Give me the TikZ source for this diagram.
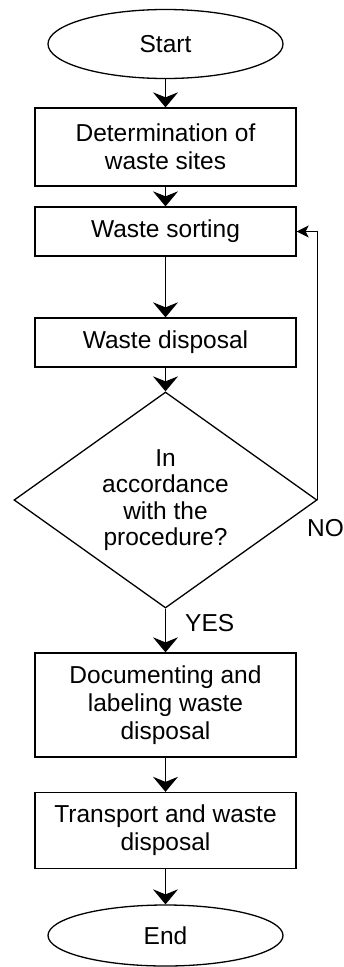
\documentclass[tikz,border=0pt]{standalone}
\usepackage{fontspec}
\setmainfont{Liberation Sans}
\usetikzlibrary{shapes.geometric,arrows.meta}
\begin{document}
\begin{tikzpicture}[x=1pt,y=-1pt,
  txt/.style={font=\fontsize{24.5}{28}\selectfont},
  box/.style={draw, line width=1.3pt, minimum width=261pt, inner sep=0pt, align=center, txt},
  term/.style={draw, ellipse, line width=1.3pt, minimum width=235pt, inner sep=0pt, txt},
  dec/.style={draw, diamond, line width=1.3pt, minimum width=303pt, minimum height=216pt, shape aspect=1.4, inner sep=0pt, align=center, font=\fontsize{24.5}{26.5}\selectfont},
  arr/.style={line width=1.3pt, -{Stealth[length=15pt,width=25pt,inset=5pt]}},
  arrs/.style={line width=1.3pt, -{Stealth[length=12pt,width=12pt,inset=3pt]}},
  lab/.style={anchor=west, inner sep=0pt, txt}]
\useasboundingbox (0,0) rectangle (343,967);
\node[term, minimum height=69pt] (start) at (165.5,44) {Start};
\node[box, minimum height=78pt] (b1) at (165.5,147) {Determination of\\waste sites};
\node[box, minimum height=49pt] (b2) at (165.5,231.5) {Waste sorting};
\node[box, minimum height=49pt] (b3) at (165.5,342.5) {Waste disposal};
\node[dec] (dec) at (165.5,500) {In\\accordance\\with the\\procedure?};
\node[box, minimum height=104pt] (b4) at (165.5,705) {Documenting and\\labeling waste\\disposal};
\node[box, minimum height=76pt] (b5) at (165.5,830.5) {Transport and waste\\disposal};
\node[term, minimum height=61pt] (end) at (165.5,935.5) {End};
\node[lab] (yes) at (185,623) {YES};
\node[lab] (no) at (307,528) {NO};
\draw[arr] (start) -- (b1);
\draw[arr] (b1) -- (b2);
\draw[arr] (b2) -- (b3);
\draw[arr] (b3) -- (dec);
\draw[arr] (dec) -- (b4);
\draw[arr] (b4) -- (b5);
\draw[arr] (b5) -- (end);
\draw[arrs] (dec.east) |- (b2.east);
\end{tikzpicture}
\end{document}
